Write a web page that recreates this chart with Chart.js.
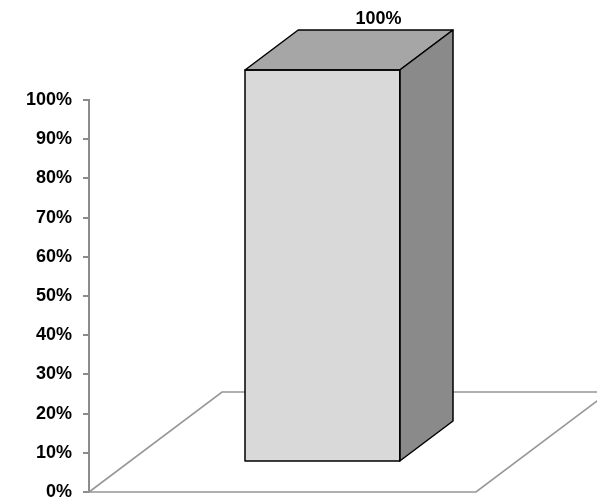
<!DOCTYPE html>
<html>
<head>
<meta charset="utf-8">
<script src="https://cdn.jsdelivr.net/npm/chart.js@4"></script>
<style>
  html, body { margin: 0; padding: 0; background: #fff; }
  #wrap { width: 597px; height: 498px; }
</style>
</head>
<body>
<div id="wrap"><canvas id="grafico"></canvas></div>
<script>
// Datos del grafico
const categorias = [''];
const valores = [100];
const ticksY = [0, 10, 20, 30, 40, 50, 60, 70, 80, 90, 100];

const fuente = '"Liberation Sans", Arial, sans-serif';

// Profundidad del "suelo" 3D y posicion de la barra dentro de el
const PROF_X = 133, PROF_Y = -100;
const FRENTE = 0.3, FONDO = 0.7;

const efecto3d = {
  id: 'efecto3d',
  beforeDatasetsDraw(chart) {
    // suelo en perspectiva
    const { ctx, chartArea } = chart;
    const x0 = chartArea.left, x1 = chartArea.right, y0 = chartArea.bottom;
    ctx.save();
    ctx.strokeStyle = '#979797';
    ctx.lineWidth = 1.6;
    ctx.beginPath();
    ctx.moveTo(x0, y0);
    ctx.lineTo(x1, y0);
    ctx.lineTo(x1 + PROF_X, y0 + PROF_Y);
    ctx.lineTo(x0 + PROF_X, y0 + PROF_Y);
    ctx.closePath();
    ctx.stroke();
    ctx.restore();
  },
  beforeDatasetDraw(chart) {
    chart.ctx.save();
    chart.ctx.translate(PROF_X * FRENTE, PROF_Y * FRENTE);
  },
  afterDatasetDraw(chart, args) {
    const ctx = chart.ctx;
    const ex = PROF_X * (FONDO - FRENTE), ey = PROF_Y * (FONDO - FRENTE);
    args.meta.data.forEach((bar, i) => {
      const p = bar.getProps(['x', 'y', 'base', 'width'], true);
      const l = p.x - p.width / 2, r = p.x + p.width / 2;
      ctx.lineWidth = 1.5;
      ctx.strokeStyle = '#000';
      ctx.lineJoin = 'round';
      // cara superior
      ctx.beginPath();
      ctx.moveTo(l, p.y);
      ctx.lineTo(l + ex, p.y + ey);
      ctx.lineTo(r + ex, p.y + ey);
      ctx.lineTo(r, p.y);
      ctx.closePath();
      ctx.fillStyle = '#a6a6a6';
      ctx.fill();
      ctx.stroke();
      // cara lateral
      ctx.beginPath();
      ctx.moveTo(r, p.y);
      ctx.lineTo(r + ex, p.y + ey);
      ctx.lineTo(r + ex, p.base + ey);
      ctx.lineTo(r, p.base);
      ctx.closePath();
      ctx.fillStyle = '#8a8a8a';
      ctx.fill();
      ctx.stroke();
      // contorno de la cara frontal
      ctx.strokeRect(l, p.y, p.width, p.base - p.y);
      // etiqueta de valor
      ctx.fillStyle = '#000';
      ctx.font = 'bold 18px ' + fuente;
      ctx.textAlign = 'center';
      ctx.textBaseline = 'alphabetic';
      ctx.fillText(valores[i] + '%', p.x + ex + 3, p.y + ey - 6);
    });
    ctx.restore();
  }
};

new Chart(document.getElementById('grafico'), {
  type: 'bar',
  data: {
    labels: categorias,
    datasets: [{
      data: valores,
      backgroundColor: '#d9d9d9',
      borderWidth: 0,
      barPercentage: 0.4,
      categoryPercentage: 1,
      clip: false
    }]
  },
  options: {
    responsive: true,
    maintainAspectRatio: false,
    animation: false,
    events: [],
    layout: { padding: { top: 100, right: 121, bottom: 6, left: 0 } },
    plugins: {
      legend: { display: false },
      tooltip: { enabled: false }
    },
    scales: {
      x: { display: false },
      y: {
        min: 0,
        max: 100,
        afterBuildTicks: scale => { scale.ticks = ticksY.map(v => ({ value: v })); },
        afterFit: scale => {
          scale.width = 89;
          scale.paddingTop = 0;
          scale.paddingBottom = 0;
        },
        ticks: {
          padding: 11,
          color: '#000',
          font: { family: fuente, size: 18, weight: 'bold' },
          callback: value => value + '%'
        },
        grid: { drawOnChartArea: false, drawTicks: true, tickLength: 6, tickColor: '#8c8c8c', lineWidth: 2 },
        border: { display: true, color: '#8c8c8c', width: 2 }
      }
    }
  },
  plugins: [efecto3d]
});
</script>
</body>
</html>
